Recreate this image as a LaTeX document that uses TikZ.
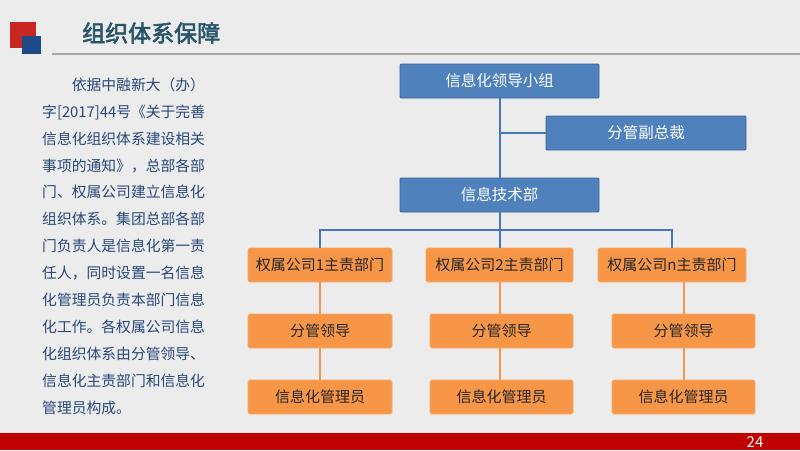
\documentclass[tikz,border=0pt]{standalone}
\usepackage{fontspec}
\usepackage{tikz}
\usetikzlibrary{positioning}
\usepackage{xcolor}
\newfontfamily\cjk{Noto Sans CJK SC}
\newfontfamily\cjkbold[FakeBold=2.5]{Noto Sans CJK SC}
\definecolor{bggray}{RGB}{236,236,236}
\definecolor{titleteal}{RGB}{38,84,104}
\definecolor{bodyblue}{RGB}{40,72,122}
\definecolor{boxblue}{RGB}{79,129,189}
\definecolor{boxblueline}{RGB}{60,100,150}
\definecolor{linkblue}{RGB}{70,120,185}
\definecolor{boxorange}{RGB}{247,150,70}
\definecolor{barred}{RGB}{192,0,0}
\definecolor{markred}{RGB}{200,38,34}
\definecolor{markblue}{RGB}{30,75,135}

\begin{document}
\begin{tikzpicture}[
        x=1pt, y=-1pt,
        blue box/.style={rectangle, draw=boxblueline, fill=boxblue, line width=0.8pt, rounded corners=1pt,
          minimum width=199pt, minimum height=34pt, inner sep=0pt, text=white, font=\cjk\fontsize{15.5}{18}\selectfont},
        orange box/.style={rectangle, draw=boxorange!80!white, fill=boxorange, line width=0.6pt, rounded corners=1.5pt,
          minimum height=34pt, inner sep=0pt, text=black!85, font=\cjk\fontsize{15}{18}\selectfont},
        blue link/.style={draw=linkblue, line width=2pt},
        orange link/.style={draw=boxorange, line width=2pt}
      ]
      % slide frame
      \fill[bggray] (0,0) rectangle (800,450);
      \useasboundingbox (0,0) rectangle (800,450);
      \fill[markred] (10,22) rectangle (36,48);
      \fill[markblue] (22,36) rectangle (41,54);
      \draw[gray!70, line width=2pt] (52,54) -- (800,54);
      \node[anchor=west, inner sep=0pt, text=titleteal, font=\cjkbold\fontsize{23}{26}\selectfont] (title) at (82,33) {组织体系保障};
      \fill[barred] (0,433) rectangle (800,450);
      \node[text=white, font=\cjk\fontsize{15}{16}\selectfont] (pageno) at (755,442) {24};

      % left column
      \node[anchor=north west, inner sep=0pt, align=left, text=bodyblue, font=\cjk\fontsize{14.8}{26.9}\selectfont] (intro) at (42,77.5)
        {\hspace*{29.6pt}依据中融新大（办）\\
         字[2017]44号《关于完善\\
         信息化组织体系建设相关\\
         事项的通知》，总部各部\\
         门、权属公司建立信息化\\
         组织体系。集团总部各部\\
         门负责人是信息化第一责\\
         任人，同时设置一名信息\\
         化管理员负责本部门信息\\
         化工作。各权属公司信息\\
         化组织体系由分管领导、\\
         信息化主责部门和信息化\\
         管理员构成。};

      % chart
      \node[blue box] (group) at (499.5,81) {信息化领导小组};
      \node[blue box, minimum width=200pt] (vp) at (646,133) {分管副总裁};
      \node[blue box] (itdept) at (499.5,195) {信息技术部};

      \node[orange box, minimum width=144pt] (co1) at (320,265) {权属公司1主责部门};
      \node[orange box, minimum width=147pt] (co2) at (499.5,265) {权属公司2主责部门};
      \node[orange box, minimum width=148pt] (co3) at (672,265) {权属公司n主责部门};
      \node[orange box, minimum width=144pt] (lead1) at (320,331) {分管领导};
      \node[orange box, minimum width=143pt] (lead2) at (501.5,331) {分管领导};
      \node[orange box, minimum width=143pt] (lead3) at (683.5,331) {分管领导};
      \node[orange box, minimum width=144pt] (admin1) at (320,397) {信息化管理员};
      \node[orange box, minimum width=143pt] (admin2) at (501.5,397) {信息化管理员};
      \node[orange box, minimum width=143pt] (admin3) at (683.5,397) {信息化管理员};

      \coordinate (bus) at (499.5,230);
      \draw[blue link] (group) -- (itdept);
      \draw[blue link] (group.south |- vp.west) -- (vp);
      \draw[blue link] (itdept) -- (co2);
      \draw[blue link] (co1) |- (bus) -| (co3);

      \draw[orange link] (co1) -- (lead1);
      \draw[orange link] (lead1) -- (admin1);
      \draw[orange link] (co2.south) -- (co2.south |- lead2.north);
      \draw[orange link] (co2.south |- lead2.south) -- (co2.south |- admin2.north);
      \draw[orange link] (lead3.north |- co3.south) -- (lead3);
      \draw[orange link] (lead3) -- (admin3);
    \end{tikzpicture}
\end{document}
